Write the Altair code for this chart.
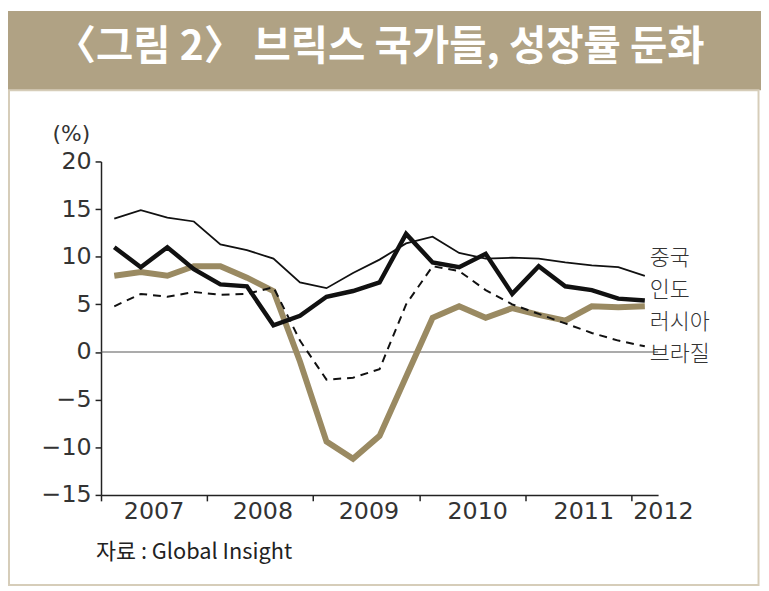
import altair as alt
import pandas as pd

# ---- data (quarterly, 2007Q1 .. 2012Q1) ----
quarter_idx = list(range(21))
china = [14.0, 14.9, 14.1, 13.7, 11.3, 10.7, 9.8, 7.3, 6.7, 8.3, 9.7, 11.4, 12.1, 10.4, 9.8, 9.9, 9.8, 9.4, 9.1, 8.9, 8.0]
india = [11.0, 8.9, 11.0, 8.7, 7.1, 6.9, 2.8, 3.8, 5.8, 6.4, 7.3, 12.4, 9.4, 8.9, 10.3, 6.1, 9.0, 6.9, 6.5, 5.6, 5.4]
russia = [8.0, 8.4, 8.0, 9.0, 9.0, 7.8, 6.4, -1.0, -9.4, -11.2, -8.8, -2.6, 3.6, 4.8, 3.6, 4.6, 3.9, 3.3, 4.8, 4.7, 4.8]
brazil = [4.8, 6.1, 5.8, 6.3, 6.0, 6.1, 6.8, 1.2, -2.9, -2.7, -1.8, 5.0, 9.0, 8.5, 6.5, 5.0, 4.0, 3.0, 2.0, 1.2, 0.6]

year_labels = ["2007", "2008", "2009", "2010", "2011", "2012"]
year_label_pos = [1.5, 5.6, 9.6, 13.7, 17.7, 20.7]
year_ticks = [-0.5, 3.5, 7.5, 11.5, 15.5, 19.5]

series_names = ["중국", "인도", "러시아", "브라질"]
series_label_y = [9.9, 6.53, 3.15, -0.23]

y_ticks = [-15, -10, -5, 0, 5, 10, 15, 20]

title_text = "〈그림 2〉 브릭스 국가들, 성장률 둔화"
source_text = "자료 : Global Insight"

W, H = 563, 337
PAD_L, PAD_T = 94, 152
TOTAL_W, TOTAL_H = 761, 583

TAN = "#b0a284"
RUSSIA_C = "#9a8a62"
BORDER = "#d6cdb9"
NUM_FONT = "DejaVu Sans"
KR_FONT = "Noto Sans CJK KR"

x_scale = alt.Scale(domain=[-0.5, 20.5], nice=False, zero=False)
y_scale = alt.Scale(domain=[-15, 20], nice=False, zero=False)

def series_df(vals):
    return pd.DataFrame({"q": quarter_idx, "v": vals})

x_axis = alt.Axis(values=year_ticks, labels=False, title=None, tickSize=6, tickWidth=1.5,
                  domainWidth=1.5, domainColor="#222", tickColor="#222", grid=False)
y_axis = alt.Axis(values=y_ticks, title=None, tickSize=6, tickWidth=1.5, domainWidth=1.5,
                  domainColor="#222", tickColor="#222", grid=False, labelFont=NUM_FONT,
                  labelFontSize=24, labelColor="#333", labelPadding=4)

zero_line = alt.Chart(pd.DataFrame({"z": [0]})).mark_rule(color="#555", strokeWidth=1).encode(
    y=alt.Y("z:Q", scale=y_scale, axis=y_axis)
)

def line_layer(vals, **style):
    return alt.Chart(series_df(vals)).mark_line(**style).encode(
        x=alt.X("q:Q", scale=x_scale, axis=x_axis),
        y=alt.Y("v:Q", scale=y_scale, axis=y_axis),
    )

l_russia = line_layer(russia, color=RUSSIA_C, strokeWidth=6)
l_brazil = line_layer(brazil, color="#111", strokeWidth=2, strokeDash=[8, 6])
l_china = line_layer(china, color="#111", strokeWidth=1.8)
l_india = line_layer(india, color="#111", strokeWidth=4.5)

one = pd.DataFrame({"a": [0]})
banner = alt.Chart(one).mark_rect(color=TAN).encode(
    x=alt.value(-PAD_L), x2=alt.value(TOTAL_W - PAD_L),
    y=alt.value(-PAD_T), y2=alt.value(80 - PAD_T),
)
frame = alt.Chart(one).mark_rect(fill=None, stroke=BORDER, strokeWidth=2).encode(
    x=alt.value(1 - PAD_L), x2=alt.value(758.5 - PAD_L),
    y=alt.value(80 - PAD_T), y2=alt.value(580 - PAD_T),
)
title = alt.Chart(pd.DataFrame({"t": [title_text]})).mark_text(
    font=KR_FONT, fontSize=41, fontWeight="bold", color="white", align="center", baseline="middle"
).encode(x=alt.value(376 - PAD_L), y=alt.value(37 - PAD_T), text="t:N")

pct = alt.Chart(pd.DataFrame({"t": ["(%)"]})).mark_text(
    font=NUM_FONT, fontSize=22, color="#333", align="center", baseline="middle"
).encode(x=alt.value(-30), y=alt.value(-28), text="t:N")

years = alt.Chart(pd.DataFrame({"q": year_label_pos, "t": year_labels})).mark_text(
    font=NUM_FONT, fontSize=24, color="#333", align="center", baseline="middle"
).encode(x=alt.X("q:Q", scale=x_scale, axis=x_axis), y=alt.value(H + 17), text="t:N")

names = alt.Chart(pd.DataFrame({"q": [20] * 4, "v": series_label_y, "t": series_names})).mark_text(
    font=KR_FONT, fontSize=22, fontWeight=300, color="#333", align="left", baseline="middle", dx=5
).encode(x=alt.X("q:Q", scale=x_scale, axis=x_axis), y=alt.Y("v:Q", scale=y_scale, axis=y_axis), text="t:N")

source = alt.Chart(pd.DataFrame({"t": [source_text]})).mark_text(
    font=KR_FONT, fontSize=22, color="#222", align="left", baseline="middle"
).encode(x=alt.value(-5), y=alt.value(395), text="t:N")

chart = alt.layer(
    banner, frame, title, zero_line, l_russia, l_brazil, l_china, l_india,
    pct, years, names, source
).properties(
    width=W, height=H,
    autosize=alt.AutoSizeParams(type="none"),
    padding={"left": PAD_L, "top": PAD_T, "right": TOTAL_W - PAD_L - W, "bottom": TOTAL_H - PAD_T - H},
    background="white",
).configure_view(strokeWidth=0)

chart.save("out.html", embed_options={"renderer": "svg", "actions": False})
